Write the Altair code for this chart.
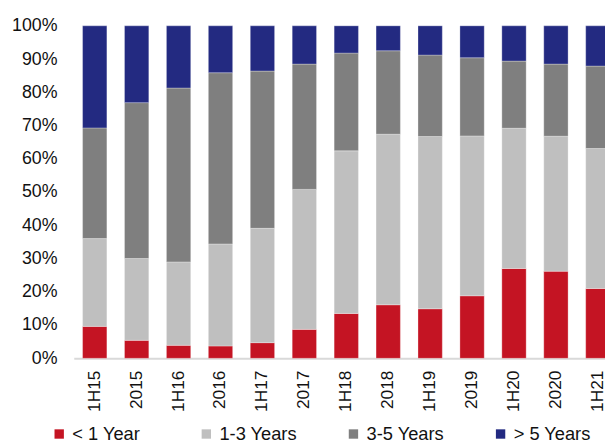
import altair as alt
import pandas as pd

periods = ["1H15", "2015", "1H16", "2016", "1H17", "2017", "1H18", "2018",
           "1H19", "2019", "1H20", "2020", "1H21"]
series_names = ["< 1 Year", "1-3 Years", "3-5 Years", "> 5 Years"]
lt1 = [9.6, 5.4, 3.9, 3.7, 4.7, 8.7, 13.5, 16.1, 14.9, 18.8, 27.0, 26.2, 21.0]
y1_3 = [26.4, 24.6, 25.1, 30.7, 34.4, 42.1, 48.9, 51.3, 51.8, 48.1, 42.2, 40.6, 42.1]
y3_5 = [33.3, 46.9, 52.3, 51.5, 47.3, 37.7, 29.4, 25.1, 24.5, 23.5, 20.2, 21.7, 24.8]
gt5 = [30.7, 23.1, 18.7, 14.1, 13.6, 11.5, 8.2, 7.5, 8.8, 9.6, 10.6, 11.5, 12.1]
colors = ["#C41423", "#BFBFBF", "#7F7F7F", "#232A81"]
y_ticks = [0, 0.1, 0.2, 0.3, 0.4, 0.5, 0.6, 0.7, 0.8, 0.9, 1.0]

rows = []
for i, p in enumerate(periods):
    for k, (name, vals) in enumerate(zip(series_names, [lt1, y1_3, y3_5, gt5])):
        rows.append({"period": p, "bucket": name, "value": vals[i], "order": k})
df = pd.DataFrame(rows)

FONT = "Liberation Sans"

chart = alt.Chart(df).mark_bar(stroke="#ffffff", strokeWidth=0.6, strokeOpacity=0.5).encode(
    x=alt.X("period:N", sort=periods, title=None,
            scale=alt.Scale(paddingInner=0.42, paddingOuter=0.21),
            axis=alt.Axis(labelAngle=270, ticks=False, labelPadding=12,
                          labelFontSize=17.5, labelFont=FONT, labelColor="#111111",
                          domainColor="#D9D9D9", domainWidth=2)),
    y=alt.Y("value:Q", stack="normalize", title=None,
            scale=alt.Scale(domain=[0, 1], nice=False),
            axis=alt.Axis(values=y_ticks, format=".0%", grid=False, domain=False,
                          ticks=False, labelPadding=17, labelFontSize=18,
                          labelFont=FONT, labelColor="#111111")),
    color=alt.Color("bucket:N", scale=alt.Scale(domain=series_names, range=colors),
                    legend=alt.Legend(title=None, orient="none", legendX=-24, legendY=404,
                                      direction="horizontal", columns=4, gridAlign="all",
                                      columnPadding=47, symbolType="square", symbolSize=90,
                                      symbolStrokeWidth=0, labelFontSize=18.5, labelFont=FONT,
                                      labelColor="#111111", labelOffset=4)),
    order=alt.Order("order:Q", sort="ascending"),
).properties(
    width=552, height=336.7,
    autosize=alt.AutoSizeParams(type="none"),
    padding={"left": 66.6, "top": 15.3, "right": -14, "bottom": 81},
).configure_view(stroke=None)

chart.save("out.html", embed_options={"renderer": "svg", "actions": False})
